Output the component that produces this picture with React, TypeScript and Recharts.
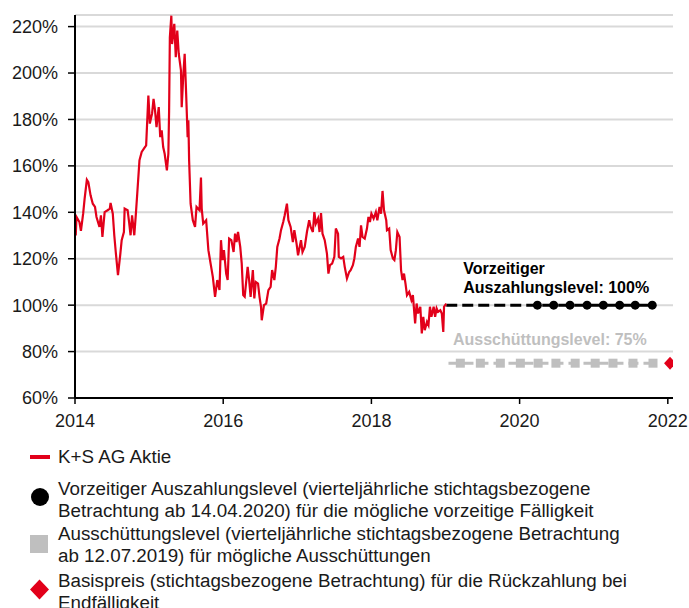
import React from "react";
import {
  ComposedChart,
  Line,
  Scatter,
  XAxis,
  YAxis,
  CartesianGrid,
  ReferenceDot,
} from "recharts";

// K+S AG Aktie, in % of the start value
const stockYears = [
  2014.01, 2014.02, 2014.06, 2014.08, 2014.11, 2014.13, 2014.16, 2014.18, 2014.21, 2014.24,
  2014.27, 2014.29, 2014.33, 2014.35, 2014.37, 2014.4, 2014.44, 2014.47, 2014.48, 2014.51,
  2014.53, 2014.55, 2014.58, 2014.61, 2014.63, 2014.66, 2014.67, 2014.71, 2014.73, 2014.75,
  2014.77, 2014.8, 2014.82, 2014.84, 2014.87, 2014.9, 2014.93, 2014.96, 2014.99, 2015.01,
  2015.04, 2015.06, 2015.08, 2015.1, 2015.13, 2015.15, 2015.17, 2015.19, 2015.21, 2015.24,
  2015.26, 2015.27, 2015.28, 2015.3, 2015.31, 2015.34, 2015.36, 2015.38, 2015.4, 2015.43,
  2015.44, 2015.46, 2015.48, 2015.5, 2015.52, 2015.53, 2015.54, 2015.56, 2015.59, 2015.62,
  2015.64, 2015.68, 2015.7, 2015.71, 2015.73, 2015.77, 2015.8, 2015.83, 2015.86, 2015.89,
  2015.92, 2015.95, 2015.97, 2015.99, 2016.01, 2016.04, 2016.06, 2016.08, 2016.11, 2016.14,
  2016.16, 2016.18, 2016.2, 2016.23, 2016.25, 2016.27, 2016.29, 2016.33, 2016.35, 2016.37,
  2016.4, 2016.42, 2016.44, 2016.47, 2016.49, 2016.51, 2016.52, 2016.55, 2016.58, 2016.61,
  2016.64, 2016.66, 2016.69, 2016.71, 2016.73, 2016.76, 2016.78, 2016.81, 2016.83, 2016.86,
  2016.88, 2016.91, 2016.94, 2016.96, 2016.99, 2017.01, 2017.05, 2017.07, 2017.1, 2017.13,
  2017.16, 2017.18, 2017.21, 2017.23, 2017.25, 2017.28, 2017.3, 2017.32, 2017.34, 2017.37,
  2017.4, 2017.42, 2017.44, 2017.47, 2017.5, 2017.52, 2017.55, 2017.56, 2017.59, 2017.62,
  2017.64, 2017.67, 2017.7, 2017.72, 2017.75, 2017.77, 2017.79, 2017.82, 2017.84, 2017.86,
  2017.88, 2017.91, 2017.94, 2017.96, 2017.98, 2018.0, 2018.03, 2018.06, 2018.08, 2018.11,
  2018.13, 2018.15, 2018.17, 2018.2, 2018.21, 2018.24, 2018.26, 2018.29, 2018.31, 2018.33,
  2018.35, 2018.38, 2018.4, 2018.42, 2018.44, 2018.46, 2018.48, 2018.51, 2018.54, 2018.56,
  2018.59, 2018.61, 2018.63, 2018.66, 2018.68, 2018.7, 2018.72, 2018.75, 2018.77, 2018.79,
  2018.81, 2018.84, 2018.86, 2018.88, 2018.9, 2018.93, 2018.95, 2018.97, 2018.98, 2019.01,
];
const stockValues = [
  130, 138, 135.8, 132, 139.4, 145.9, 154, 153, 147.3, 143.7,
  142.3, 138, 133.7, 138.7, 129.4, 140.1, 140.9, 141.6, 144, 139.4,
  130.1, 122.9, 112.9, 121.5, 128, 131.5, 141.6, 140.9, 135.8, 130.1,
  138.7, 130.1, 138.7, 148, 162.4, 166, 167.4, 168.8, 190.3, 178.2,
  182.5, 188.9, 183.9, 176.7, 185.3, 172.4, 175.3, 168.1, 165.2, 158.1,
  165.2, 183.9, 215.4, 224.7, 212.5, 221.2, 206.8, 218.3, 208.3, 201.1,
  185.3, 198.2, 208.3, 191, 172.4, 179.6, 162.4, 143.7, 136.6, 133.7,
  142.3, 140.9, 155, 141.6, 135.1, 136.6, 123.7, 117.9, 112.2, 103.6,
  110.8, 106.5, 128, 119.4, 123.7, 113.6, 110.8, 128.7, 128, 122.9,
  130.8, 127.2, 131.5, 125.1, 117.9, 104.3, 103.6, 116.5, 110.8, 103.6,
  115.1, 102.9, 110, 109.3, 103.6, 99.3, 93.5, 100, 100.7, 106.5,
  107.9, 115.1, 110.8, 116.5, 125.1, 128.7, 132.3, 135.8, 138.7, 143.7,
  136.6, 133.7, 127.2, 132.3, 126.5, 121.5, 128, 122.9, 125.1, 131.5,
  136.6, 133.7, 131.5, 140.1, 135.1, 137.3, 131.5, 139.7, 130.8, 128,
  122.2, 113.6, 117.2, 117.9, 120.8, 133, 130.8, 120.8, 120.1, 120.8,
  116.5, 111.5, 114.3, 115.1, 117.2, 120.1, 125.1, 128.7, 125.1, 134.4,
  129.4, 128.7, 133, 138, 135.8, 139.4, 137.3, 140.1, 136.6, 142.3,
  139.4, 149.2, 140.9, 136.6, 132.3, 133, 123.7, 120.1, 119.4, 123.7,
  131.5, 129.4, 115.1, 110.8, 113.6, 109.3, 104.3, 105.7, 102.2, 104.3,
  92.1, 100.7, 96.4, 99.3, 87.8, 95, 89.2, 92.8, 91.4, 99.3,
  95, 99.3, 95, 98.6, 97.1, 97.8, 96.4, 88.5, 99.3, 100.7,
];

// Vorzeitiger Auszahlungslevel 100%
const earlyLineYears = [2019.01, 2021.79];
const earlyLevel = 100;
const earlyObsYears = [2020.24, 2020.46, 2020.68, 2020.91, 2021.13, 2021.35, 2021.56, 2021.79];

// Ausschüttungslevel 75%
const payoutLineYears = [2019.04, 2021.85];
const payoutLevel = 75;
const payoutObsYears = [2019.2, 2019.47, 2019.74, 2020.01, 2020.25, 2020.49, 2020.75, 2021.02, 2021.26, 2021.53, 2021.8];

// Basispreis
const strikeYears = [2022.03];
const strikeLevel = 75;

const xTicks = [2014, 2016, 2018, 2020, 2022];
const yTicks = [60, 80, 100, 120, 140, 160, 180, 200, 220];

const RED = "#e2001a";
const GREY = "#bfbfbf";
const FONT = '"Liberation Sans", Arial, sans-serif';

const stockData = stockYears.map((x, i) => ({ x, y: stockValues[i] }));
const earlyLine = earlyLineYears.map((x) => ({ x, y: earlyLevel }));
const earlyObs = earlyObsYears.map((x) => ({ x, y: earlyLevel }));
const payoutLine = payoutLineYears.map((x) => ({ x, y: payoutLevel }));
const payoutObs = payoutObsYears.map((x) => ({ x, y: payoutLevel }));
const strikeData = strikeYears.map((x) => ({ x, y: strikeLevel }));

function CircleShape(props: any) {
  return <circle cx={props.cx} cy={props.cy} r={4.5} fill="#000" />;
}

function SquareShape(props: any) {
  return <rect x={props.cx - 4.5} y={props.cy - 4.5} width={9} height={9} fill={GREY} />;
}

function DiamondShape(props: any) {
  const { cx, cy } = props;
  return (
    <polygon
      points={`${cx},${cy - 6.5} ${cx + 6},${cy} ${cx},${cy + 6.5} ${cx - 6},${cy}`}
      fill={RED}
    />
  );
}

function LevelLabel(props: any) {
  const { viewBox, lines, color } = props;
  const x = viewBox?.x ?? 0;
  const y = viewBox?.y ?? 0;
  return (
    <text x={x} y={y} fill={color} fontWeight="bold" fontSize={16} fontFamily={FONT}>
      {lines.map((l: string, i: number) => (
        <tspan key={l} x={x} dy={i === 0 ? 0 : 18.7}>
          {l}
        </tspan>
      ))}
    </text>
  );
}

const legendText: React.CSSProperties = {
  position: "absolute",
  left: 50,
  fontSize: 18.8,
  lineHeight: "22px",
  color: "#1a1a1a",
  whiteSpace: "nowrap",
};

export default function App() {
  return (
    <div style={{ position: "relative", width: 689, height: 608, overflow: "hidden", fontFamily: FONT }}>
      <style>{"body { margin: 0; }"}</style>
      <div style={{ position: "absolute", left: 8, top: 8, width: 681, height: 600 }}>
        <ComposedChart
          width={681}
          height={430}
          margin={{ top: 7, right: 16, bottom: 0, left: 0 }}
        >
          <CartesianGrid horizontal vertical={false} stroke="#d9d9d9" strokeWidth={2} />
          <XAxis
            type="number"
            dataKey="x"
            domain={[2014, 2022.07]}
            ticks={xTicks}
            allowDataOverflow
            height={40}
            tickSize={6}
            tickMargin={10}
            axisLine={{ stroke: "#000", strokeWidth: 2 }}
            tickLine={{ stroke: "#000", strokeWidth: 1.5 }}
            tick={{ fill: "#1a1a1a", fontSize: 18, fontFamily: FONT }}
          />
          <YAxis
            type="number"
            domain={[60, 225]}
            ticks={yTicks}
            allowDataOverflow
            width={67}
            tickSize={7}
            tickMargin={10}
            tickFormatter={(v: number) => `${v}%`}
            axisLine={{ stroke: "#000", strokeWidth: 2 }}
            tickLine={{ stroke: "#000", strokeWidth: 1.5 }}
            tick={{ fill: "#1a1a1a", fontSize: 18, fontFamily: FONT }}
          />
          <Line
            data={payoutLine}
            dataKey="y"
            stroke={GREY}
            strokeWidth={3}
            strokeDasharray="10 5"
            dot={false}
            activeDot={false}
            isAnimationActive={false}
          />
          <Scatter data={payoutObs} dataKey="y" shape={SquareShape} isAnimationActive={false} />
          <Line
            data={earlyLine}
            dataKey="y"
            stroke="#000"
            strokeWidth={3}
            strokeDasharray="11 5"
            dot={false}
            activeDot={false}
            isAnimationActive={false}
          />
          <Scatter data={earlyObs} dataKey="y" shape={CircleShape} isAnimationActive={false} />
          <Line
            data={stockData}
            dataKey="y"
            stroke={RED}
            strokeWidth={2.2}
            dot={false}
            activeDot={false}
            isAnimationActive={false}
          />
          <Scatter data={strikeData} dataKey="y" shape={DiamondShape} isAnimationActive={false} />
          <ReferenceDot
            x={2019.24}
            y={113.4}
            r={0}
            fill="none"
            stroke="none"
            label={<LevelLabel lines={["Vorzeitiger", "Auszahlungslevel: 100%"]} color="#000" />}
          />
          <ReferenceDot
            x={2019.1}
            y={82.8}
            r={0}
            fill="none"
            stroke="none"
            label={<LevelLabel lines={["Ausschüttungslevel: 75%"]} color={GREY} />}
          />
        </ComposedChart>

        {/* legend */}
        <div style={{ position: "absolute", left: 22, top: 447, width: 20, height: 4, background: RED }} />
        <div style={{ ...legendText, top: 438 }}>K+S AG Aktie</div>

        <div
          style={{
            position: "absolute",
            left: 22.5,
            top: 480,
            width: 18,
            height: 18,
            borderRadius: "50%",
            background: "#000",
          }}
        />
        <div style={{ ...legendText, top: 470 }}>
          Vorzeitiger Auszahlungslevel (vierteljährliche stichtagsbezogene
          <br />
          Betrachtung ab 14.04.2020) für die mögliche vorzeitige Fälligkeit
        </div>

        <div style={{ position: "absolute", left: 22, top: 527, width: 18, height: 18, background: GREY }} />
        <div style={{ ...legendText, top: 515 }}>
          Ausschüttungslevel (vierteljährliche stichtagsbezogene Betrachtung
          <br />
          ab 12.07.2019) für mögliche Ausschüttungen
        </div>

        <svg style={{ position: "absolute", left: 21, top: 571 }} width={21} height={21}>
          <polygon points="10.5,0.5 20,10.5 10.5,20.5 1,10.5" fill={RED} />
        </svg>
        <div style={{ ...legendText, top: 562 }}>
          Basispreis (stichtagsbezogene Betrachtung) für die Rückzahlung bei
          <br />
          Endfälligkeit
        </div>
      </div>
    </div>
  );
}
